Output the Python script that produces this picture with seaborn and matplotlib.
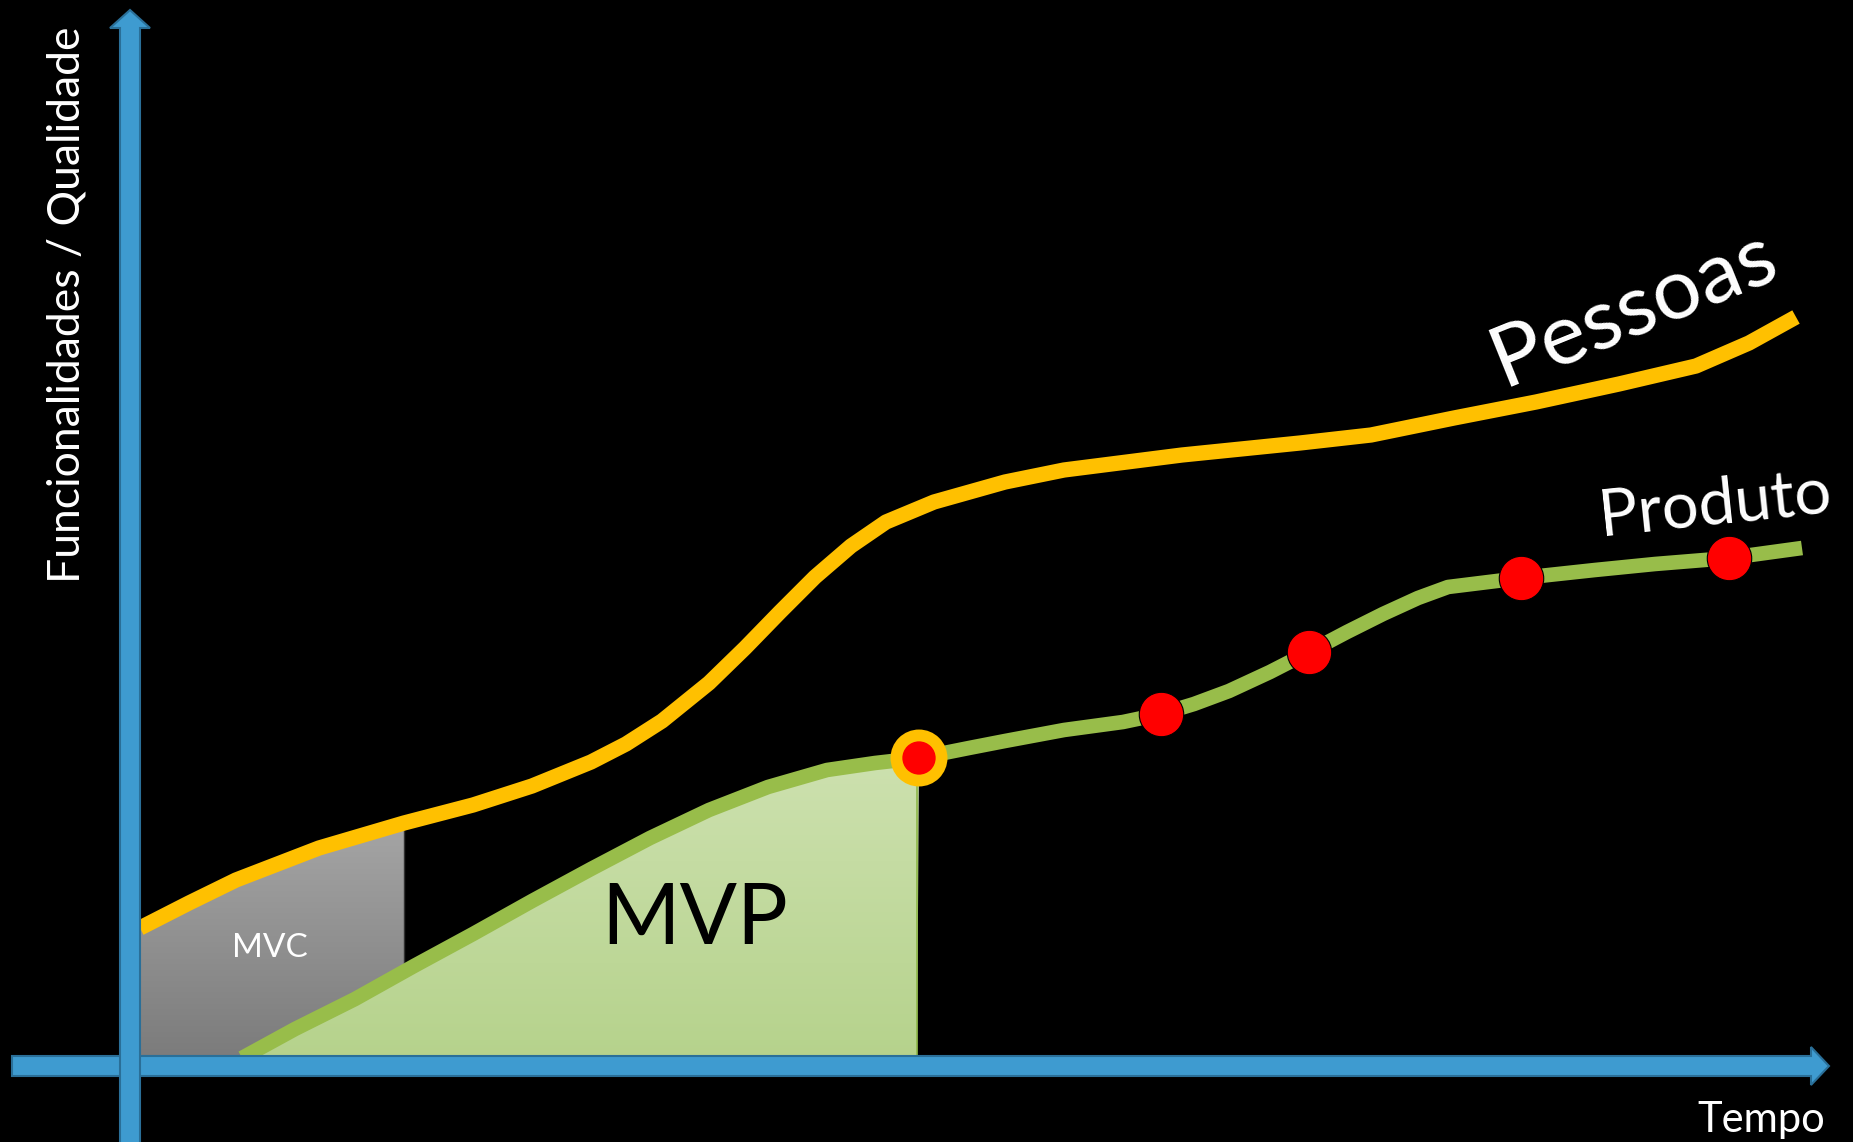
import numpy as np
import matplotlib.pyplot as plt
import seaborn as sns
from matplotlib.patches import Polygon, FancyArrow
from matplotlib.colors import LinearSegmentedColormap

### Dados (tempo x funcionalidades) ###

# Curva "Pessoas"
tempo_pessoas = [10, 59, 106, 189, 274, 343, 402, 461, 496, 532, 579, 615, 650, 685,
                 721, 756, 804, 875, 934, 1052, 1170, 1241, 1324, 1406, 1489, 1566, 1619, 1666]
valor_pessoas = [138, 163, 186, 218, 243, 261, 280, 304, 322, 345, 383, 418, 454, 489,
                 520, 544, 564, 584, 596, 611, 623, 631, 648, 664, 682, 700, 723, 749]

# Curva "Produto"
tempo_produto = [112, 165, 225, 284, 343, 402, 461, 520, 579, 638, 697, 745, 789, 839,
                 875, 934, 993, 1031, 1064, 1099, 1140, 1179, 1217, 1253, 1288, 1318,
                 1391, 1465, 1525, 1599, 1672]
valor_produto = [8, 37, 67, 100, 132, 165, 197, 228, 256, 279, 296, 303, 308, 318,
                 325, 336, 344, 352, 362, 375, 394, 414, 434, 452, 468, 479,
                 488, 496, 502, 508, 518]

# Entregas (pontos vermelhos) e o MVP
entregas_tempo = [1031, 1179, 1391, 1599]
entregas_valor = [352, 414, 488, 508]
mvp_tempo = [789]
mvp_valor = [308]

# Fim da faixa MVC
mvc_fim = 274

amarelo = '#FFC000'
verde = '#98BD4A'
azul = '#3E9BD0'
azul_borda = '#2A6F98'

sns.set_theme(style="dark")
plt.rcParams['font.family'] = ['Lato', 'DejaVu Sans']

fig = plt.figure(figsize=(18.53, 11.42), dpi=100, facecolor='black')
ax = fig.add_axes([0, 0, 1, 1])
ax.set_facecolor('black')
ax.set_xlim(-130, 1723)
ax.set_ylim(-76, 1066)
ax.axis('off')

tp = np.array(tempo_pessoas)
vp = np.array(valor_pessoas)
tr = np.array(tempo_produto)
vr = np.array(valor_produto)


def preenche_gradiente(ax, pts, cor_baixo, cor_cima):
    poly = Polygon(pts, closed=True, fc='none', ec='none')
    ax.add_patch(poly)
    cmap = LinearSegmentedColormap.from_list('g', [cor_baixo, cor_cima])
    ys = pts[:, 1]
    img = ax.imshow(np.linspace(0, 1, 256).reshape(-1, 1), cmap=cmap, aspect='auto',
                    origin='lower', extent=(pts[:, 0].min(), pts[:, 0].max(), 0, ys.max()),
                    zorder=1)
    img.set_clip_path(poly)


# Área MVC (cinza)
v_prod_fim = np.interp(mvc_fim, tr, vr)
sel_p = tp <= mvc_fim
sel_r = tr < mvc_fim
mvc_pts = np.vstack([
    np.column_stack([tp[sel_p], vp[sel_p]]),
    [[mvc_fim, v_prod_fim]],
    np.column_stack([tr[sel_r][::-1], vr[sel_r][::-1]]),
    [[tr[0], 0], [tp[0], 0]],
])
preenche_gradiente(ax, mvc_pts, '#7a7a7a', '#a5a5a5')
ax.plot([mvc_fim, mvc_fim], [v_prod_fim, vp[sel_p][-1] - 6], color='#333333', lw=1, zorder=1.5)

# Área MVP (verde claro)
sel_m = tr <= mvp_tempo[0]
mvp_pts = np.vstack([
    np.column_stack([tr[sel_m], vr[sel_m]]),
    [[mvp_tempo[0] - 2, 0], [tr[0], 0]],
])
preenche_gradiente(ax, mvp_pts, '#b5d28b', '#cde1af')
ax.plot([mvp_tempo[0] - 2, mvp_tempo[0] - 2], [0, mvp_valor[0]], color='#8fb84a', lw=1.2, zorder=1.5)

# Curvas
sns.lineplot(x=tempo_pessoas, y=valor_pessoas, sort=False, color=amarelo, linewidth=11,
             ax=ax, zorder=3, solid_capstyle='butt', solid_joinstyle='round')
sns.lineplot(x=tempo_produto, y=valor_produto, sort=False, color=verde, linewidth=10.5,
             ax=ax, zorder=3, solid_capstyle='butt', solid_joinstyle='round')

# Eixos em forma de seta
ax.add_patch(FancyArrow(-118, 0, 1817, 0, width=20, head_width=38, head_length=18,
                        length_includes_head=True, fc=azul, ec=azul_borda, lw=1.5, zorder=4))
ax.add_patch(FancyArrow(0, -80, 0, 1136, width=20, head_width=40, head_length=18,
                        length_includes_head=True, fc=azul, ec=azul_borda, lw=1.5, zorder=4.5))

# Pontos
ax.scatter(mvp_tempo, mvp_valor, s=41 ** 2, color=amarelo, edgecolor='none', zorder=5)
ax.scatter(mvp_tempo, mvp_valor, s=24 ** 2, color='#FF0000', edgecolor='none', zorder=6)
sns.scatterplot(x=entregas_tempo, y=entregas_valor, s=32 ** 2, color='#FF0000',
                edgecolor='black', linewidth=0.8, ax=ax, zorder=6)

# Textos
ax.text(565, 146, 'MVP', color='black', fontsize=61, ha='center', va='center', zorder=7)
ax.text(140, 118, 'MVC', color='white', fontsize=24, ha='center', va='center', zorder=7)
ax.text(1503, 758, 'Pessoas', color='white', fontsize=62, rotation=22,
        rotation_mode='anchor', ha='center', va='center', zorder=7)
ax.text(1585, 561, 'Produto', color='white', fontsize=47, rotation=6,
        rotation_mode='anchor', ha='center', va='center', zorder=7)
ax.text(1631, -54, 'Tempo', color='white', fontsize=30, ha='center', va='center', zorder=7)
ax.text(-63, 761, 'Funcionalidades / Qualidade', color='white', fontsize=32, rotation=90,
        ha='center', va='center', zorder=7)

fig.savefig('out.png', dpi=100, facecolor='black')
